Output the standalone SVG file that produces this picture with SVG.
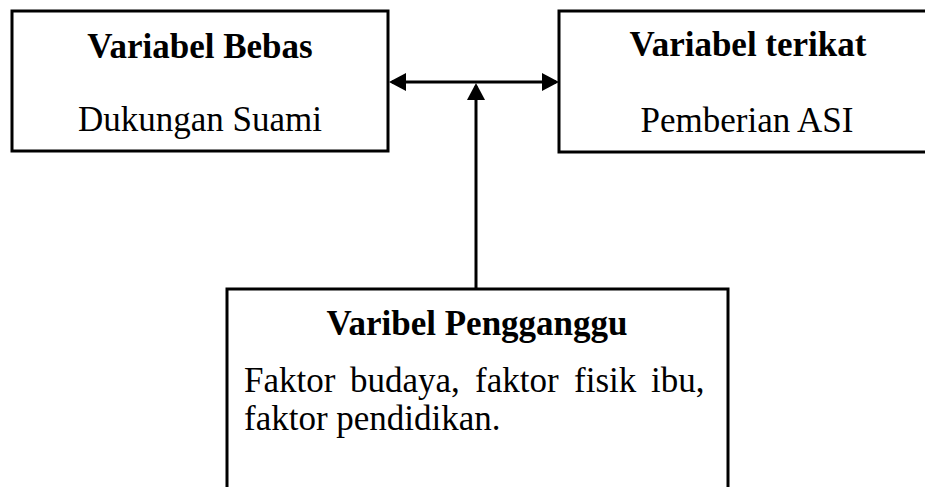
<svg xmlns="http://www.w3.org/2000/svg" width="925" height="487" viewBox="0 0 925 487">
  <style>
    .box { fill: #ffffff; stroke: #000000; stroke-width: 3; }
    .title { font-family: "Liberation Serif", "Times New Roman", serif; font-size: 35px; font-weight: bold; fill: #000000; text-anchor: middle; }
    .body { font-family: "Liberation Serif", "Times New Roman", serif; font-size: 35px; fill: #000000; }
    .mid { text-anchor: middle; }
    .conn { fill: none; stroke: #000000; stroke-width: 3; }
  </style>
  <defs>
    <marker id="arrow" viewBox="0 0 17 18" refX="14" refY="9" markerWidth="17" markerHeight="18" markerUnits="userSpaceOnUse" orient="auto-start-reverse">
      <path d="M0,0 L17,9 L0,18 z" fill="#000000"/>
    </marker>
  </defs>
  <rect width="925" height="487" fill="#ffffff"/>

  <g id="node-variabel-bebas">
    <rect class="box" x="12" y="11" width="376" height="140"/>
    <text class="title" x="200" y="58">Variabel Bebas</text>
    <text class="body mid" x="200" y="131">Dukungan Suami</text>
  </g>

  <g id="node-variabel-terikat">
    <rect class="box" x="559" y="11" width="380" height="141"/>
    <text class="title" x="748" y="56">Variabel terikat</text>
    <text class="body mid" x="747" y="132">Pemberian ASI</text>
  </g>

  <g id="node-variabel-pengganggu">
    <rect class="box" x="227" y="289" width="501" height="215"/>
    <text class="title" x="477" y="335">Varibel Pengganggu</text>
    <text class="body" y="392"><tspan x="244">Faktor</tspan><tspan x="350">budaya,</tspan><tspan x="475">faktor</tspan><tspan x="574">fisik</tspan><tspan x="651">ibu,</tspan></text>
    <text class="body" x="244" y="430">faktor pendidikan.</text>
  </g>

  <g id="connectors">
    <path class="conn" d="M392,82 H556" marker-start="url(#arrow)" marker-end="url(#arrow)"/>
    <path class="conn" d="M476,289 V86" marker-end="url(#arrow)"/>
  </g>
</svg>
